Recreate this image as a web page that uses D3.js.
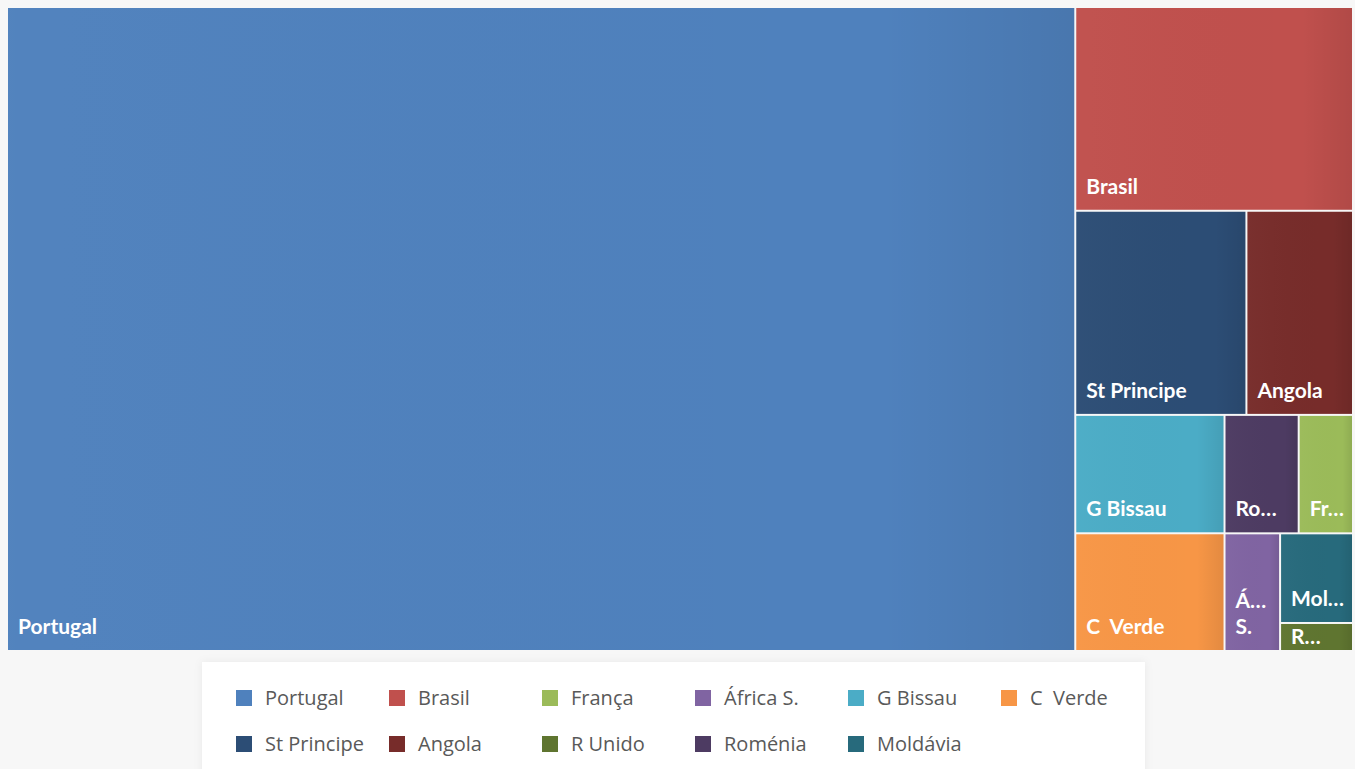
<!DOCTYPE html>
<html>
<head>
<meta charset="utf-8">
<script src="https://cdn.jsdelivr.net/npm/d3@7"></script>
<style>
  html, body { margin: 0; padding: 0; background: #f7f7f7; }
  svg { display: block; }
  .lbl { font-family: Lato, "Open Sans", sans-serif; font-weight: 700; font-size: 21px; fill: #fff; }
  .leg { font-family: "Open Sans", sans-serif; font-size: 20px; fill: #595959; white-space: pre; }
</style>
</head>
<body>
<div id="chart"></div>
<script>
// data, in legend order
const countries = ["Portugal", "Brasil", "França", "África S.", "G Bissau", "C  Verde",
                   "St Principe", "Angola", "R Unido", "Roménia", "Moldávia"];
const values = [6735, 554, 63, 64, 173, 172, 342, 213, 20, 86, 64];
const colors = ["#4f81bd", "#c0504d", "#9bbb59", "#8064a2", "#4bacc6", "#f79646",
                "#2c4d75", "#772c2a", "#5f7530", "#4d3b62", "#276a7c"];

// how the tiles are grouped (dice = side by side, slice = stacked)
const groups = {tile: "dice", children: [
  "Portugal",
  {tile: "slice", children: [
    "Brasil",
    {tile: "dice", children: ["St Principe", "Angola"]},
    {tile: "dice", children: [
      {tile: "slice", children: ["G Bissau", "C  Verde"]},
      {tile: "slice", children: [
        {tile: "dice", children: ["Roménia", "França"]},
        {tile: "dice", children: ["África S.", {tile: "slice", children: ["Moldávia", "R Unido"]}]}
      ]}
    ]}
  ]}
]};

const W = 1355, H = 769;
const area = {x: 8, y: 8, w: 1344, h: 642};

const svg = d3.select("#chart").append("svg")
  .attr("width", W).attr("height", H);

const defs = svg.append("defs");
const grad = defs.append("linearGradient").attr("id", "shade")
  .attr("x1", 0).attr("y1", 0).attr("x2", 1).attr("y2", 0);
grad.append("stop").attr("offset", "0%").attr("stop-color", "#fff").attr("stop-opacity", 0.02);
grad.append("stop").attr("offset", "82%").attr("stop-color", "#000").attr("stop-opacity", 0);
grad.append("stop").attr("offset", "100%").attr("stop-color", "#000").attr("stop-opacity", 0.08);

const shadow = defs.append("filter").attr("id", "soft")
  .attr("x", -0.05).attr("y", -0.2).attr("width", 1.1).attr("height", 1.5);
shadow.append("feDropShadow").attr("dx", 0).attr("dy", 0).attr("stdDeviation", 4)
  .attr("flood-color", "#000").attr("flood-opacity", 0.06);

const color = d3.scaleOrdinal(countries, colors);
const valueOf = d3.scaleOrdinal(countries, values);

const toNode = c => typeof c === "string" ? {name: c} : c;
const root = d3.hierarchy(groups, d => d.children ? d.children.map(toNode) : null)
  .sum(d => d.name ? valueOf(d.name) : 0);

d3.treemap()
  .size([area.w, area.h])
  .paddingInner(2)
  .round(false)
  .tile((node, x0, y0, x1, y1) =>
    (node.data.tile === "dice" ? d3.treemapDice : d3.treemapSlice)(node, x0, y0, x1, y1))
  (root);

const g = svg.append("g").attr("transform", `translate(${area.x},${area.y})`);

const cell = g.selectAll("g.cell")
  .data(root.leaves())
  .join("g").attr("class", "cell");

cell.append("rect")
  .attr("x", d => d.x0).attr("y", d => d.y0)
  .attr("width", d => d.x1 - d.x0).attr("height", d => d.y1 - d.y0)
  .attr("fill", d => color(d.data.name));

cell.append("rect")
  .attr("x", d => d.x0).attr("y", d => d.y0)
  .attr("width", d => d.x1 - d.x0).attr("height", d => d.y1 - d.y0)
  .attr("fill", "url(#shade)");

// labels: wrap on words, cut with an ellipsis when a word does not fit
const lineH = 26;
cell.each(function(d) {
  const el = d3.select(this);
  const w = d.x1 - d.x0, h = d.y1 - d.y0;
  const avail = w - 17.5;
  const maxLines = Math.max(1, Math.floor((h - 12) / lineH));
  const t = el.append("text").attr("class", "lbl").attr("x", d.x0 + 10);
  const measure = s => { t.text(s); return t.node().getComputedTextLength(); };
  const cut = s => {
    if (measure(s) <= avail) return s;
    let k = s.length - 1;
    while (k > 1 && measure(s.slice(0, k) + "…") > avail) k--;
    return s.slice(0, k) + "…";
  };
  const name = d.data.name;
  let lines;
  if (measure(name) <= avail) lines = [name];
  else {
    lines = [];
    name.split(/\s+/).forEach(word => {
      const last = lines.length ? lines[lines.length - 1] : null;
      if (last !== null && measure(last + " " + word) <= avail) lines[lines.length - 1] = last + " " + word;
      else lines.push(cut(word));
    });
    if (lines.length > maxLines) {
      lines = lines.slice(0, maxLines);
      const l = lines[maxLines - 1];
      if (!l.endsWith("…")) lines[maxLines - 1] = l + "…";
    }
  }
  t.text(null).style("white-space", "pre");
  let base = d.y1 - 16;
  if (h < 40) base = d.y0 + h / 2 + 7.5;
  lines.forEach((s, i) => {
    t.append("tspan").attr("x", d.x0 + 10)
      .attr("y", base - (lines.length - 1 - i) * lineH)
      .text(s);
  });
});

// legend
const legend = svg.append("g");
legend.append("rect")
  .attr("x", 202).attr("y", 662).attr("width", 943).attr("height", 130)
  .attr("fill", "#fff").attr("filter", "url(#soft)");

const perRow = 6;
const colX = d3.scaleLinear().domain([0, 1]).range([236, 389]);
const rowY = d3.scaleLinear().domain([0, 1]).range([698, 744]);

const item = legend.selectAll("g.item")
  .data(countries)
  .join("g").attr("class", "item")
  .attr("transform", (c, i) => `translate(${colX(i % perRow)},${rowY(Math.floor(i / perRow))})`);

item.append("rect")
  .attr("x", 0).attr("y", -8).attr("width", 16).attr("height", 16)
  .attr("fill", c => color(c));

item.append("text").attr("class", "leg")
  .attr("x", 29).attr("y", 7)
  .text(c => c);
</script>
</body>
</html>
